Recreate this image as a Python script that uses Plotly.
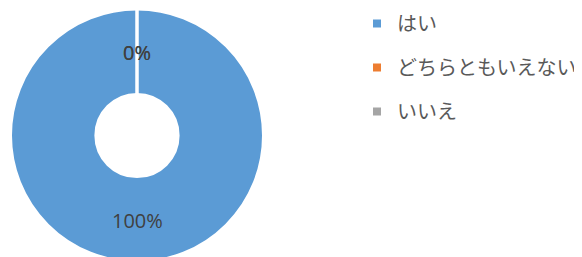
import math
import plotly.graph_objects as go

labels = ["はい", "どちらともいえない", "いいえ"]
values = [100, 0, 0]
colors = ["#5B9BD5", "#ED7D31", "#A5A5A5"]

W, H = 582, 257
OFF = 8  # page body margin
cx, cy_top, R = 137 - OFF, 135.5 - OFF, 126.5  # pie centre / radius in figure pixels
hole = 0.325

dom_x = [(cx - R) / W, (cx + R) / W]
dom_y = [max(0, (H - cy_top - R) / H), min(1, (H - cy_top + R) / H)]

fig = go.Figure()
fig.add_trace(go.Pie(
    labels=labels, values=values, sort=False, direction="clockwise", rotation=0,
    hole=hole, domain=dict(x=dom_x, y=dom_y),
    marker=dict(colors=colors, line=dict(color="white", width=3)),
    textinfo="none", hoverinfo="none", showlegend=False,
))

# legend entries
for lab, col in zip(labels, colors):
    fig.add_trace(go.Scatter(x=[None], y=[None], mode="markers", name=lab, legendgroup=lab,
                             marker=dict(symbol="square", size=8, color=col)))

# data labels at ring middle, slice mid-angle
total = sum(values)
cum = 0
r_lab = R * (1 + hole) / 2
anns = []
for v in values:
    mid = (cum + v / 2) / total * 2 * math.pi
    cum += v
    xp = cx + r_lab * math.sin(mid)
    yp = cy_top - r_lab * math.cos(mid)
    anns.append(dict(x=xp / W, y=(H - yp) / H, xref="paper", yref="paper",
                     xanchor="center", yanchor="middle",
                     text=f"{round(100 * v / total)}%", showarrow=False, yshift=-1,
                     font=dict(family="Open Sans, Noto Sans", size=20, color="#404040")))

fig.update_layout(
    width=W, height=H, margin=dict(l=0, r=0, t=0, b=0, autoexpand=False),
    paper_bgcolor="white", plot_bgcolor="white",
    xaxis=dict(visible=False), yaxis=dict(visible=False),
    annotations=anns,
    legend=dict(x=(357 - OFF) / W, y=1 + 4 / H, xanchor="left", yanchor="top", tracegroupgap=15,
                font=dict(family="Noto Sans CJK JP", size=20, color="#595959")),
)
fig.write_html("out.html")
